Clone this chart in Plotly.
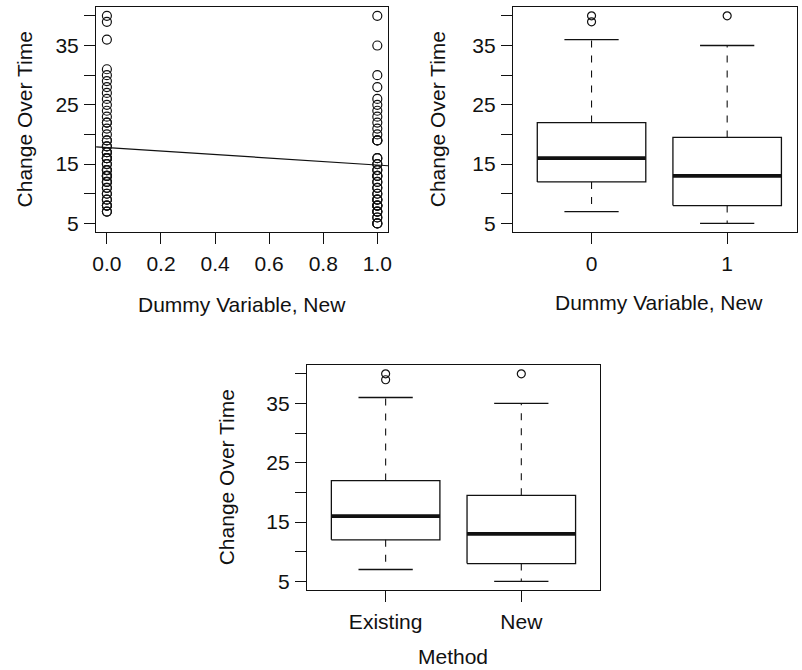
import math
import numpy as np
import plotly.graph_objects as go

# ---------------- data ----------------
existing_vals = [7, 7, 8, 8, 8, 9, 9, 10, 10, 11, 11, 12, 12,
                 12, 13, 13, 13, 13, 14, 14, 14, 15, 15, 16, 16,
                 16, 16, 17, 17, 17, 18, 18, 19, 19, 20, 21, 22, 22,
                 23, 24, 25, 26, 27, 28, 29, 30, 31, 36, 39, 40]
new_vals = [5, 5, 5, 6, 6, 7, 7, 7, 8, 8, 8, 8,
            9, 9, 9, 10, 10, 11, 11, 12, 12, 13,
            13, 13, 14, 14, 15, 15, 16, 16, 19, 19, 19,
            20, 21, 22, 23, 24, 25, 26, 28, 30, 35, 40]
dummy_codes = [0, 1]
dummy_labels = ["0", "1"]
method_labels = ["Existing", "New"]
x_ticks_a = [0.0, 0.2, 0.4, 0.6, 0.8, 1.0]
x_ticktext_a = ["0.0", "0.2", "0.4", "0.6", "0.8", "1.0"]
y_ticks = [5, 10, 15, 20, 25, 30, 35, 40]
y_ticktext = ["5", "", "15", "", "25", "", "35", ""]
y_title = "Change Over Time"
x_title_ab = "Dummy Variable, New"
x_title_c = "Method"

# ---------------- styling ----------------
W, H = 802, 670
FONT = "Liberation Sans, Arial, Helvetica, sans-serif"
FS = 21
BLACK = "#111111"


def px(xp):
    return xp / W


def py(yp):
    return 1 - yp / H


def fivenum(v):
    s = sorted(v)
    n = len(s)
    n4 = math.floor((n + 3) / 2) / 2
    d = [1, n4, (n + 1) / 2, n + 1 - n4, n]
    return [0.5 * (s[math.floor(k) - 1] + s[math.ceil(k) - 1]) for k in d]


def box_stats(v):
    f = fivenum(v)
    q1, med, q3 = f[1], f[2], f[3]
    iqr = q3 - q1
    lo_f, hi_f = q1 - 1.5 * iqr, q3 + 1.5 * iqr
    inside = [a for a in v if lo_f <= a <= hi_f]
    outs = [a for a in v if a < lo_f or a > hi_f]
    return dict(q1=q1, med=med, q3=q3, lo=min(inside), hi=max(inside), out=outs)


fig = go.Figure()

MSIZE = 9
# ---------------- panel A: scatter + regression ----------------
xs = [dummy_codes[0]] * len(existing_vals) + [dummy_codes[1]] * len(new_vals)
ys = existing_vals + new_vals
fig.add_trace(go.Scatter(
    x=xs, y=ys, mode="markers", xaxis="x", yaxis="y",
    marker=dict(symbol="circle-open", size=MSIZE, color=BLACK, line=dict(width=1.2, color=BLACK)),
    showlegend=False, hoverinfo="skip"))
slope, intercept = np.polyfit(xs, ys, 1)
xa_range = [-0.04, 1.04]
fig.add_trace(go.Scatter(
    x=xa_range, y=[intercept + slope * x for x in xa_range], mode="lines",
    xaxis="x", yaxis="y", line=dict(color=BLACK, width=1.2),
    showlegend=False, hoverinfo="skip"))


def add_boxes(xa, ya, groups):
    for i, vals in enumerate(groups):
        c = i + 1
        st = box_stats(vals)
        hw, cw = 0.4, 0.2
        fig.add_trace(go.Scatter(x=[c, c, None, c, c], y=[st["q3"], st["hi"], None, st["q1"], st["lo"]],
                                 mode="lines", xaxis=xa, yaxis=ya,
                                 line=dict(color=BLACK, width=1.1, dash="7px,8px"),
                                 showlegend=False, hoverinfo="skip"))
        fig.add_trace(go.Scatter(x=[c - cw, c + cw, None, c - cw, c + cw],
                                 y=[st["hi"], st["hi"], None, st["lo"], st["lo"]],
                                 mode="lines", xaxis=xa, yaxis=ya,
                                 line=dict(color=BLACK, width=1.3),
                                 showlegend=False, hoverinfo="skip"))
        fig.add_trace(go.Scatter(x=[c - hw, c + hw, c + hw, c - hw, c - hw],
                                 y=[st["q1"], st["q1"], st["q3"], st["q3"], st["q1"]],
                                 mode="lines", xaxis=xa, yaxis=ya,
                                 line=dict(color=BLACK, width=1.3),
                                 showlegend=False, hoverinfo="skip"))
        fig.add_trace(go.Scatter(x=[c - hw, c + hw], y=[st["med"], st["med"]],
                                 mode="lines", xaxis=xa, yaxis=ya,
                                 line=dict(color=BLACK, width=3.8),
                                 showlegend=False, hoverinfo="skip"))
        if st["out"]:
            fig.add_trace(go.Scatter(x=[c] * len(st["out"]), y=st["out"], mode="markers",
                                     xaxis=xa, yaxis=ya,
                                     marker=dict(symbol="circle-open", size=MSIZE - 1, color=BLACK,
                                                 line=dict(width=1.2, color=BLACK)),
                                     showlegend=False, hoverinfo="skip"))


groups = [existing_vals, new_vals]
add_boxes("x2", "y2", groups)
add_boxes("x3", "y3", groups)

yrange = [3.5, 41.5]
axis_common = dict(showgrid=False, zeroline=False, showline=True, mirror=True,
                   linecolor=BLACK, linewidth=1.2, ticks="outside", ticklen=11,
                   tickwidth=1.1, tickcolor=BLACK,
                   tickfont=dict(family=FONT, size=FS, color=BLACK), fixedrange=True)

yA = [py(233), py(7)]
yC = [py(592), py(366)]
XSO, YSO = 1, 1

fig.update_layout(
    width=W, height=H, margin=dict(l=0, r=0, t=0, b=0),
    paper_bgcolor="white", plot_bgcolor="white", showlegend=False,
    font=dict(family=FONT, size=FS, color=BLACK),
    xaxis=dict(domain=[px(93), px(388)], anchor="y", range=xa_range,
               tickvals=x_ticks_a, ticktext=x_ticktext_a, ticklabelstandoff=XSO, **axis_common),
    yaxis=dict(domain=yA, anchor="x", range=yrange,
               tickvals=y_ticks, ticktext=y_ticktext, ticklabelstandoff=YSO, **axis_common),
    xaxis2=dict(domain=[px(514), px(801)], anchor="y2", range=[0.42, 0.42 + (801 - 514) / 137.0],
                tickvals=[1, 2], ticktext=dummy_labels, ticklabelstandoff=XSO, **axis_common),
    yaxis2=dict(domain=yA, anchor="x2", range=yrange,
                tickvals=y_ticks, ticktext=y_ticktext, ticklabelstandoff=YSO, **axis_common),
    xaxis3=dict(domain=[px(306), px(602)], anchor="y3", range=[0.42, 2.58],
                tickvals=[1, 2], ticktext=method_labels, ticklabelstandoff=XSO, **axis_common),
    yaxis3=dict(domain=yC, anchor="x3", range=yrange,
                tickvals=y_ticks, ticktext=y_ticktext, ticklabelstandoff=YSO, **axis_common),
)

ann = [
    (21, 120, y_title, -90),
    (240.5, 305, x_title_ab, 0),
    (438, 120, y_title, -90),
    (661.7, 303, x_title_ab, 0),
    (225, 479, y_title, -90),
    (454, 658, x_title_c, 0),
]
for xp_, yp_, t, ang in ann:
    fig.add_annotation(x=px(xp_), y=py(yp_), xref="paper", yref="paper", text=t,
                       textangle=ang, showarrow=False, xanchor="center", yanchor="middle",
                       font=dict(family=FONT, size=FS, color=BLACK))

fig.write_html("out.html", config={"displayModeBar": False},
               post_script="document.body.style.margin='0';document.body.style.overflow='hidden';")
